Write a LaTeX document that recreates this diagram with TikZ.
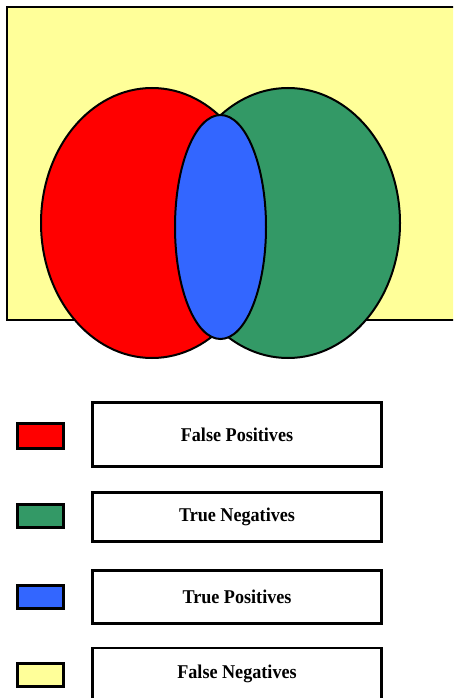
\documentclass[tikz,border=0pt]{standalone}
\usepackage{fontspec}
\setmainfont{Liberation Serif}
\newfontfamily\legendfont[FakeStretch=0.93]{Liberation Serif}
\usepackage{xcolor}
\definecolor{fpred}{HTML}{FF0000}
\definecolor{tngreen}{HTML}{339966}
\definecolor{tpblue}{HTML}{3366FF}
\definecolor{fnyellow}{HTML}{FFFF99}
\usepackage{tikz}
\usetikzlibrary{shapes.geometric}

\begin{document}
\begin{tikzpicture}[x=1pt,y=-1pt,
  region/.style={ellipse,draw=black,line width=2pt,inner sep=0pt},
  swatch/.style={rectangle,draw=black,line width=2.5pt,inner sep=0pt,minimum width=46pt},
  label/.style={rectangle,draw=black,line width=2.5pt,inner sep=0pt,minimum width=289pt,
    font=\legendfont\bfseries\fontsize{19.5}{22}\selectfont}]
  \useasboundingbox (0,0) rectangle (453,698);
  \clip (0,0) rectangle (453,698);
  % universe
  \draw[fill=fnyellow,line width=2.5pt] (7,7) rectangle (470,320);
  % sets
  \node[region,fill=fpred,minimum width=222pt,minimum height=270pt] (fp) at (152,223) {};
  \node[region,fill=tngreen,minimum width=224pt,minimum height=270pt] (tn) at (288,223) {};
  \node[region,fill=tpblue,minimum width=91pt,minimum height=224pt] (tp) at (220.5,227) {};
  % legend
  \node[swatch,fill=fpred,minimum height=25pt] (kfp) at (40.5,436) {};
  \node[swatch,fill=tngreen,minimum height=23pt] (ktn) at (40.5,516) {};
  \node[swatch,fill=tpblue,minimum height=23pt] (ktp) at (40.5,597) {};
  \node[swatch,fill=fnyellow,minimum height=23pt] (kfn) at (40.5,675) {};
  \node[label,minimum height=64pt] (lfp) at (237,434.5) {False Positives};
  \node[label,minimum height=49pt] (ltn) at (237,517) {True Negatives};
  \node[label,minimum height=53pt] (ltp) at (237,597) {True Positives};
  \node[label,minimum height=60pt] (lfn) at (237,678) {};
  \node[font=\legendfont\bfseries\fontsize{19.5}{22}\selectfont] (tfn) at (237,674) {False Negatives};
\end{tikzpicture}
\end{document}
